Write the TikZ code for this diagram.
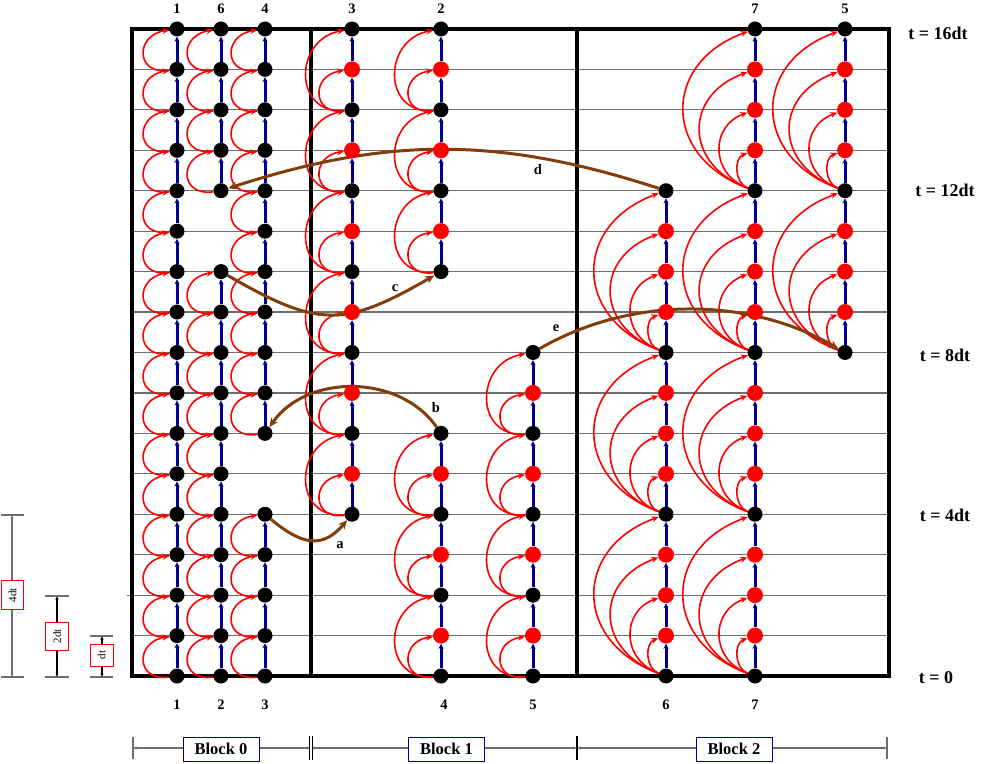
\documentclass[tikz,border=0pt]{standalone}
\usepackage{fontspec}
\setmainfont{Liberation Serif}
\usetikzlibrary{arrows.meta}
\definecolor{navyb}{RGB}{0,0,140}
\definecolor{brn}{RGB}{130,62,10}
\definecolor{gridg}{RGB}{110,110,110}
\pgfdeclarelayer{bg}
\pgfsetlayers{bg,main}
\begin{document}
\begin{tikzpicture}[x=1pt,y=1pt,
  blk/.style={circle,fill=black,inner sep=0pt,minimum size=15pt},
  rdn/.style={circle,fill=red,inner sep=0pt,minimum size=16pt},
  vline/.style={navyb,line width=3pt,-{Stealth[length=5pt,width=5pt]}},
  rarc/.style={red,line width=1.6pt,-{Stealth[length=7pt,width=6pt]}},
  barr/.style={brn,line width=3pt,-{Stealth[length=9pt,width=8pt]}},
  gline/.style={gridg,line width=1.2pt},
  thickbox/.style={black,line width=4pt},
  lbl/.style={font=\bfseries\fontsize{14.5}{16}\selectfont,inner sep=0pt},
  tlab/.style={font=\bfseries\fontsize{18}{20}\selectfont,inner sep=0pt},
  sbox/.style={draw=red,fill=white,line width=0.9pt,inner sep=1pt,rotate=90,font=\fontsize{11}{12}\selectfont},
  bbox/.style={draw=blue!60!black,fill=white,line width=1pt,minimum width=76pt,minimum height=24pt,inner sep=1pt,font=\bfseries\fontsize{16.5}{18}\selectfont},
  scl/.style={gridg,line width=1.2pt},
  sarr/.style={gridg,line width=1.2pt,{Latex[length=3.5pt,width=3.5pt]}-{Latex[length=3.5pt,width=3.5pt]}}
]
\useasboundingbox (0,0) rectangle (981,763);

% ---- nodes ----
\foreach \cl/\xa/\mo/\rs in {
  A/177/1/{0,1,2,3,4,5,6,7,8,9,10,11,12,13,14,15,16},
  B/221/1/{0,1,2,3,4,5,6,7,8,9,10,12,13,14,15,16},
  C/265/1/{0,1,2,3,4,6,7,8,9,10,11,12,13,14,15,16},
  D/352/2/{4,5,6,7,8,9,10,11,12,13,14,15,16},
  E/441/2/{0,1,2,3,4,5,6,10,11,12,13,14,15,16},
  F/533/2/{0,1,2,3,4,5,6,7,8},
  G/666/4/{0,1,2,3,4,5,6,7,8,9,10,11,12},
  H/755/4/{0,1,2,3,4,5,6,7,8,9,10,11,12,13,14,15,16},
  I/845/4/{8,9,10,11,12,13,14,15,16}}{
  \foreach \kk in \rs {
    \pgfmathtruncatemacro{\md}{mod(\kk,\mo)}
    \ifnum\md=0
      \node[blk] (\cl\kk) at (\xa,{87+40.44*\kk}) {};
    \else
      \node[rdn] (\cl\kk) at (\xa,{87+40.44*\kk}) {};
    \fi
  }
}

\begin{pgfonlayer}{bg}
% grid lines
\foreach \kk in {1,...,15}
  \draw[gline] (132,{87+40.44*\kk}) -- (889,{87+40.44*\kk});
\draw[gline] (127,167.9) -- (132,167.9);
% box
\draw[thickbox] (132,87) rectangle (889,734.04);
\draw[thickbox] (311,87) -- (311,734.04);
\draw[thickbox] (577,87) -- (577,734.04);

% red arcs, block 0
\foreach \cl/\ka/\kb in {A/0/16,B/0/10,B/12/16,C/0/4,C/6/16}{
  \pgfmathtruncatemacro{\kz}{\kb-1}
  \foreach \kk in {\ka,...,\kz}{
    \pgfmathtruncatemacro{\kn}{\kk+1}
    \draw[rarc] (\cl\kk) to[out=188,in=188,looseness=2.2] (\cl\kn);
  }
}
% red arcs, block 1
\foreach \cl/\ka/\kb in {D/4/16,E/0/6,E/10/16,F/0/8}{
  \pgfmathtruncatemacro{\kz}{\kb-2}
  \pgfmathtruncatemacro{\ky}{\ka+2}
  \foreach \kk in {\ka,\ky,...,\kz}{
    \pgfmathtruncatemacro{\kn}{\kk+1}
    \pgfmathtruncatemacro{\km}{\kk+2}
    \draw[rarc] (\cl\kk) to[out=188,in=188,looseness=2.1] (\cl\kn);
    \draw[rarc] (\cl\kk) to[out=185,in=190,looseness=1.65] (\cl\km);
  }
}
% red arcs, block 2
\foreach \cl/\ka/\kb in {G/0/12,H/0/16,I/8/16}{
  \pgfmathtruncatemacro{\kz}{\kb-4}
  \pgfmathtruncatemacro{\ky}{\ka+4}
  \foreach \kk in {\ka,\ky,...,\kz}{
    \foreach \jj/\lz in {1/1.05,2/1.35,3/1.5,4/1.5}{
      \pgfmathtruncatemacro{\kn}{\kk+\jj}
      \draw[rarc] (\cl\kk) to[out=160,in=200,looseness=\lz] (\cl\kn);
    }
  }
}

% blue vertical lines
\foreach \cl/\ka/\kb in {A/0/16,B/0/10,B/12/16,C/0/4,C/6/16,D/4/16,E/0/6,E/10/16,F/0/8,G/0/12,H/0/16,I/8/16}{
  \pgfmathtruncatemacro{\ky}{\ka+1}
  \foreach \kk in {\ky,...,\kb}{
    \pgfmathtruncatemacro{\kp}{\kk-1}
    \draw[vline] (\cl\kp) -- (\cl\kk);
  }
}

% brown transfer arrows
\draw[barr] (C4) to[out=-40,in=-130,looseness=1.3] (D4);
\draw[barr] (E6) to[out=125,in=55,looseness=1.0] (C6);
\draw[barr] (B10) to[out=-30,in=-150,looseness=1.3] (E10);
\draw[barr] (G12) to[out=162,in=18,looseness=1.0] (B12);
\draw[barr] (F8) to[out=30,in=150,looseness=0.9] (I8);
\end{pgfonlayer}

% arrow letters
\node[lbl] (la) at (340,218) {a};
\node[lbl] (lb) at (436,355) {b};
\node[lbl] (lc) at (395,475) {c};
\node[lbl] (ld) at (538,593) {d};
\node[lbl] (le) at (556,435) {e};

% column labels
\node[lbl] (tp1) at (177,754) {1};
\node[lbl] (tp6) at (221,754) {6};
\node[lbl] (tp4) at (265,754) {4};
\node[lbl] (tp3) at (352,754) {3};
\node[lbl] (tp2) at (441,754) {2};
\node[lbl] (tp7) at (755,754) {7};
\node[lbl] (tp5) at (845,754) {5};
\node[lbl] (bt1) at (177,58) {1};
\node[lbl] (bt2) at (221,58) {2};
\node[lbl] (bt3) at (265,58) {3};
\node[lbl] (bt4) at (444,58) {4};
\node[lbl] (bt5) at (533,58) {5};
\node[lbl] (bt6) at (666,58) {6};
\node[lbl] (bt7) at (755,58) {7};

% time labels
\node[tlab] (t16) at (938,730) {t = 16dt};
\node[tlab] (t12) at (945,573) {t = 12dt};
\node[tlab] (t8) at (945,408) {t = 8dt};
\node[tlab] (t4) at (945,248) {t = 4dt};
\node[tlab] (t0) at (936,85) {t = 0};

% scale bars
\coordinate (s4t) at (12,248); \coordinate (s4b) at (12,86);
\draw[scl] (1,248) -- (24,248); \draw[scl] (1,86) -- (24,86);
\draw[sarr] (s4t) -- (s4b);
\node[sbox,minimum width=29pt,minimum height=22pt] (box4) at (12.5,168) {4dt};
\coordinate (s2t) at (57,167); \coordinate (s2b) at (57,86);
\draw[scl] (45,167) -- (69,167); \draw[scl] (45,86) -- (69,86);
\draw[sarr,black] (s2t) -- (s2b);
\node[sbox,minimum width=28pt,minimum height=23pt] (box2) at (57,127) {2dt};
\coordinate (s1t) at (102,127); \coordinate (s1b) at (102,86);
\draw[scl] (90,127) -- (113,127); \draw[scl] (90,86) -- (113,86);
\draw[sarr,black] (s1t) -- (s1b);
\node[sbox,minimum width=22pt,minimum height=23pt] (box1) at (101.5,108) {dt};

% block bar
\coordinate (bb0) at (133,15); \coordinate (bb1) at (311,15);
\coordinate (bb2) at (577,15); \coordinate (bb3) at (887,15);
\draw[sarr] (bb0) -- (bb1);
\draw[sarr] (bb1) -- (bb2);
\draw[sarr] (bb2) -- (bb3);
\draw[scl] (133,4) -- (133,26);
\draw[scl] (887,4) -- (887,26);
\draw[black,line width=0.9pt] (309.5,3) -- (309.5,27);
\draw[black,line width=0.9pt] (312.5,3) -- (312.5,27);
\draw[black,line width=1.8pt] (577,3) -- (577,27);
\node[bbox] (blk0) at (221,14) {Block 0};
\node[bbox] (blk1) at (446.5,14) {Block 1};
\node[bbox] (blk2) at (734,14) {Block 2};
\end{tikzpicture}
\end{document}
